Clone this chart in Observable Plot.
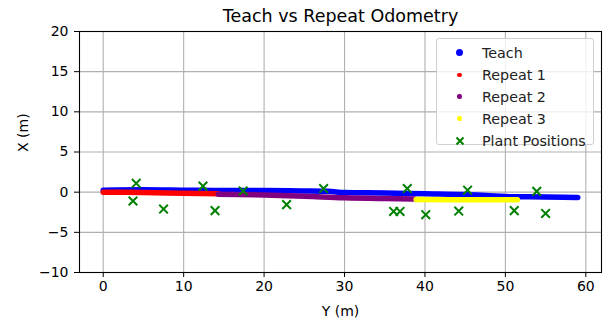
<!DOCTYPE html>
<html>
<head>
<meta charset="utf-8">
<script src="https://cdn.jsdelivr.net/npm/d3@7"></script>
<script src="https://cdn.jsdelivr.net/npm/@observablehq/plot@0.6"></script>
<style>
  html, body { margin: 0; padding: 0; background: #fff; }
  #wrap { position: relative; width: 612px; height: 322px; font-family: "DejaVu Sans", sans-serif; }
  #legend {
    position: absolute; left: 436px; top: 38px; width: 158px; height: 107px;
    border: 1px solid #d0d0d0; border-radius: 3px; background: rgba(255,255,255,0.8);
    box-sizing: border-box; padding-top: 3px;
  }
  .row { display: flex; align-items: center; height: 21.9px; font-size: 14.3px; color: #222; }
  .mk { width: 45px; display: flex; justify-content: center; align-items: center; }
  .dot { border-radius: 50%; display: inline-block; }
</style>
</head>
<body>
<div id="wrap"></div>
<script>
// Titles & labels
const title = "Teach vs Repeat Odometry";
const xLabel = "Y (m)";
const yLabel = "X (m)";
const xTicks = [0, 10, 20, 30, 40, 50, 60];
const yTicks = [-10, -5, 0, 5, 10, 15, 20];

// Teach trajectory (Y horizontal, X vertical)
const teachY = [0, 5, 10, 15, 20, 25, 28, 30, 35, 40, 45, 48, 50, 55, 59];
const teachX = [0.25, 0.3, 0.25, 0.2, 0.2, 0.15, 0.1, -0.05, -0.1, -0.2, -0.3, -0.45, -0.55, -0.6, -0.65];

// Repeat 1
const rep1Y = [0, 5, 10, 14.3];
const rep1X = [0.0, -0.05, -0.15, -0.2];
// Repeat 2
const rep2Y = [14.3, 20, 25, 30, 35, 38.7];
const rep2X = [-0.25, -0.35, -0.5, -0.7, -0.8, -0.85];
// Repeat 3
const rep3Y = [38.9, 45, 51.5];
const rep3X = [-0.9, -0.95, -0.95];

// Plant positions
const plantY = [4.1, 3.7, 7.5, 12.4, 13.9, 17.4, 22.8, 27.4, 36.1, 36.9, 37.8, 40.1, 44.2, 45.3, 51.1, 53.9, 55.0];
const plantX = [1.1, -1.1, -2.1, 0.75, -2.3, 0.15, -1.55, 0.45, -2.4, -2.4, 0.45, -2.8, -2.35, 0.25, -2.3, 0.1, -2.65];

const seriesNames = ["Teach", "Repeat 1", "Repeat 2", "Repeat 3", "Plant Positions"];
const seriesColors = ["blue", "red", "purple", "yellow", "green"];

const toRows = (ys, xs) => ys.map((y, i) => ({y, x: xs[i]}));
const teach = toRows(teachY, teachX);
const rep1 = toRows(rep1Y, rep1X);
const rep2 = toRows(rep2Y, rep2X);
const rep3 = toRows(rep3Y, rep3X);
const plants = toRows(plantY, plantX);

const lineOpts = (c) => ({x: "y", y: "x", stroke: c, strokeWidth: 5.5, strokeLinecap: "round", strokeLinejoin: "round", curve: "monotone-x"});

const chart = Plot.plot({
  width: 612,
  height: 322,
  marginLeft: 79,
  marginRight: 11,
  marginTop: 31,
  marginBottom: 50,
  style: {fontFamily: "DejaVu Sans, sans-serif", fontSize: "13.9px", color: "#000", background: "#fff"},
  x: {domain: [-2.95, 61.95]},
  y: {domain: [-10, 20]},
  marks: [
    Plot.gridX(xTicks, {stroke: "#b0b0b0", strokeOpacity: 1, strokeWidth: 1.1}),
    Plot.gridY(yTicks, {stroke: "#b0b0b0", strokeOpacity: 1, strokeWidth: 1.1}),
    Plot.line(teach, lineOpts(seriesColors[0])),
    Plot.line(rep1, lineOpts(seriesColors[1])),
    Plot.line(rep2, lineOpts(seriesColors[2])),
    Plot.line(rep3, lineOpts(seriesColors[3])),
    Plot.dot(plants, {x: "y", y: "x", symbol: "times", r: 4, stroke: seriesColors[4], strokeWidth: 2}),
    Plot.frame({stroke: "#000", strokeWidth: 1.1}),
    Plot.axisX(xTicks, {tickSize: 5, tickPadding: 4, label: null, fontSize: 14}),
    Plot.axisY(yTicks, {tickSize: 5, tickPadding: 6, label: null, fontSize: 14}),
    Plot.text([xLabel], {text: d => d, frameAnchor: "bottom", dy: 39, lineAnchor: "middle", fontSize: 14}),
    Plot.text([yLabel], {text: d => d, frameAnchor: "left", dx: -56, rotate: -90, lineAnchor: "middle", fontSize: 14}),
    Plot.text([title], {text: d => d, frameAnchor: "top", dy: -15, lineAnchor: "middle", fontSize: 17.5})
  ]
});

const wrap = document.getElementById("wrap");
wrap.appendChild(chart);

// Legend
const legend = document.createElement("div");
legend.id = "legend";
const markerSizes = [7, 4.5, 4.5, 4.5];
seriesNames.forEach((name, i) => {
  const row = document.createElement("div");
  row.className = "row";
  const mk = document.createElement("span");
  mk.className = "mk";
  if (i < 4) {
    const d = document.createElement("span");
    d.className = "dot";
    d.style.width = markerSizes[i] + "px";
    d.style.height = markerSizes[i] + "px";
    d.style.background = seriesColors[i];
    mk.appendChild(d);
  } else {
    mk.innerHTML = `<svg width="10" height="10" viewBox="-5 -5 10 10"><path d="M-3.5,-3.5L3.5,3.5M-3.5,3.5L3.5,-3.5" stroke="${seriesColors[i]}" stroke-width="2"/></svg>`;
  }
  const label = document.createElement("span");
  label.textContent = name;
  row.appendChild(mk);
  row.appendChild(label);
  legend.appendChild(row);
});
wrap.appendChild(legend);
</script>
</body>
</html>
